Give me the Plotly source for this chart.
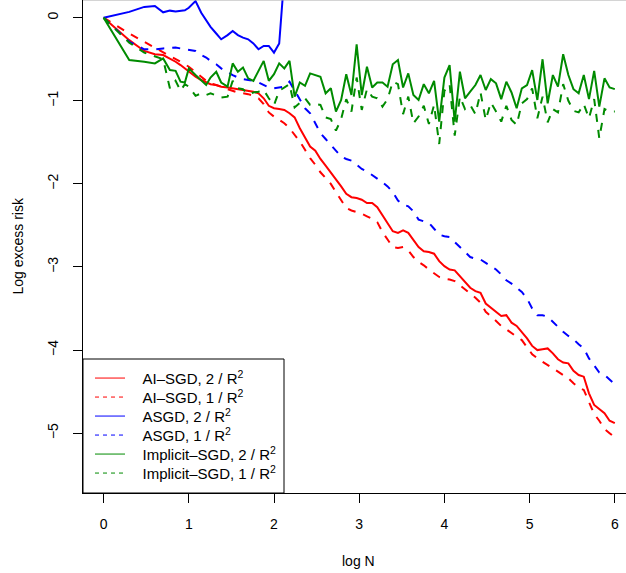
import plotly.graph_objects as go

# log N values (x positions shared by all series)
log_n = [0, 0.301, 0.477, 0.602, 0.699, 0.778, 0.845, 0.903, 0.954, 1.0, 1.079, 1.146, 1.204, 1.255, 1.322, 1.380,
         1.455, 1.515, 1.576, 1.636, 1.697, 1.758, 1.818, 1.879, 1.939, 2.000,
         2.061, 2.121, 2.182, 2.242, 2.303, 2.364, 2.424, 2.485, 2.545, 2.606,
         2.667, 2.727, 2.788, 2.848, 2.909, 2.970, 3.030, 3.091, 3.152, 3.212,
         3.273, 3.333, 3.394, 3.455, 3.515, 3.576, 3.636, 3.697, 3.758, 3.818,
         3.879, 3.939, 4.000, 4.061, 4.121, 4.182, 4.242, 4.303, 4.364, 4.424,
         4.485, 4.545, 4.606, 4.667, 4.727, 4.788, 4.848, 4.909, 4.970, 5.030,
         5.091, 5.152, 5.212, 5.273, 5.333, 5.394, 5.455, 5.515, 5.576, 5.636,
         5.697, 5.758, 5.818, 5.879, 5.939, 6.000]

ai_sgd_2 = [0, -0.27, -0.40, -0.44, -0.45, -0.49, -0.53, -0.57, -0.61, -0.65, -0.71, -0.75, -0.78, -0.80, -0.81, -0.83,
            -0.84, -0.85, -0.86, -0.87, -0.88, -0.89, -0.91, -0.97, -1.06, -1.09,
            -1.10, -1.11, -1.15, -1.20, -1.33, -1.45, -1.55, -1.60, -1.70, -1.78,
            -1.86, -1.94, -2.03, -2.12, -2.16, -2.17, -2.19, -2.23, -2.23, -2.28,
            -2.38, -2.47, -2.57, -2.59, -2.56, -2.59, -2.68, -2.76, -2.81, -2.82,
            -2.84, -2.93, -2.99, -3.03, -3.04, -3.11, -3.18, -3.25, -3.29, -3.31,
            -3.44, -3.49, -3.54, -3.59, -3.58, -3.67, -3.71, -3.78, -3.86, -3.95,
            -4.00, -3.99, -3.98, -4.04, -4.11, -4.15, -4.16, -4.25, -4.30, -4.32,
            -4.52, -4.66, -4.71, -4.76, -4.85, -4.88]

ai_sgd_1 = [0, -0.19, -0.29, -0.36, -0.41, -0.46, -0.50, -0.53, -0.56, -0.59, -0.66, -0.72, -0.76, -0.79, -0.81, -0.83,
            -0.86, -0.88, -0.90, -0.91, -0.92, -0.94, -0.97, -1.04, -1.14, -1.19,
            -1.23, -1.27, -1.33, -1.41, -1.49, -1.59, -1.69, -1.77, -1.86, -1.93,
            -2.00, -2.10, -2.20, -2.29, -2.32, -2.34, -2.36, -2.39, -2.42, -2.46,
            -2.58, -2.67, -2.76, -2.77, -2.76, -2.80, -2.88, -2.94, -2.98, -3.03,
            -3.07, -3.12, -3.14, -3.15, -3.17, -3.22, -3.27, -3.32, -3.37, -3.43,
            -3.54, -3.59, -3.65, -3.71, -3.75, -3.80, -3.84, -3.88, -3.97, -4.05,
            -4.10, -4.14, -4.18, -4.22, -4.26, -4.30, -4.34, -4.40, -4.45, -4.48,
            -4.63, -4.77, -4.85, -4.95, -5.00, -5.05]

asgd_2 = [0, 0.07, 0.13, 0.14, 0.065, 0.085, 0.075, 0.08, 0.09, 0.12, 0.20, 0.06, -0.03, -0.11, -0.19, -0.26,
          -0.21, -0.16, -0.21, -0.24, -0.26, -0.31, -0.38, -0.34, -0.34, -0.42,
          -0.31, 0.5, 3.0, None, None, None, None, None, None, None,
          None, None, None, None, None, None, None, None, None, None,
          None, None, None, None, None, None, None, None, None, None,
          None, None, None, None, None, None, None, None, None, None,
          None, None, None, None, None, None, None, None, None, None,
          None, None, None, None, None, None, None, None, None, None,
          None, None, None, None, None, None]

asgd_1 = [0, -0.29, -0.38, -0.38, -0.37, -0.36, -0.36, -0.37, -0.38, -0.38, -0.40, -0.45, -0.48, -0.52, -0.56, -0.61,
          -0.66, -0.69, -0.72, -0.74, -0.75, -0.76, -0.78, -0.81, -0.84, -0.85,
          -0.84, -0.83, -0.77, -0.87, -0.98, -1.09, -1.15, -1.27, -1.39, -1.46,
          -1.53, -1.59, -1.67, -1.70, -1.72, -1.77, -1.82, -1.85, -1.89, -1.93,
          -1.98, -2.03, -2.10, -2.20, -2.25, -2.27, -2.33, -2.43, -2.45, -2.47,
          -2.54, -2.61, -2.63, -2.64, -2.70, -2.76, -2.82, -2.88, -2.90, -2.91,
          -2.95, -2.99, -3.03, -3.09, -3.16, -3.20, -3.25, -3.30, -3.38, -3.50,
          -3.58, -3.58, -3.60, -3.66, -3.73, -3.78, -3.83, -3.87, -3.93, -3.98,
          -4.10, -4.19, -4.27, -4.30, -4.36, -4.41]

implicit_2 = [0, -0.51, -0.53, -0.55, -0.49, -0.63, -0.64, -0.77, -0.78, -0.61, -0.69, -0.75, -0.81, -0.72, -0.65, -0.78,
              -0.83, -0.55, -0.65, -0.60, -0.73, -0.76, -0.64, -0.52, -0.76, -0.68,
              -0.55, -0.61, -0.52, -0.95, -0.78, -0.82, -0.67, -0.69, -0.71, -0.91,
              -0.85, -1.13, -0.99, -0.68, -0.93, -0.32, -0.93, -0.59, -0.84, -0.78,
              -0.78, -0.83, -0.56, -0.51, -0.84, -0.67, -0.93, -0.99, -0.80, -0.91,
              -0.76, -1.25, -0.72, -0.57, -1.25, -0.65, -0.97, -0.89, -0.81, -0.69,
              -0.87, -0.74, -0.79, -0.98, -0.77, -0.90, -1.09, -0.85, -0.81, -0.63,
              -0.99, -0.50, -1.03, -0.69, -0.83, -0.44, -0.69, -0.86, -0.91, -0.69,
              -0.98, -0.64, -1.07, -0.73, -0.84, -0.86]

implicit_1 = [0, -0.30, -0.42, -0.46, -0.50, -0.85, -0.76, -0.88, -0.80, -0.83, -0.94, -0.91, -0.93, -0.91, -0.94, -0.96,
              -0.95, -0.76, -0.85, -0.86, -0.92, -0.90, -0.89, -0.87, -0.97, -1.05,
              -0.88, -0.84, -0.80, -1.08, -1.02, -0.97, -1.05, -1.04, -1.05, -1.20,
              -1.22, -1.36, -1.22, -0.98, -1.13, -0.72, -1.11, -0.86, -0.95, -0.97,
              -1.07, -0.98, -0.77, -0.80, -1.16, -0.95, -1.27, -1.19, -1.06, -1.28,
              -1.05, -1.52, -0.88, -0.80, -1.42, -0.95, -1.10, -1.05, -1.16, -0.90,
              -1.23, -1.02, -1.13, -1.25, -1.06, -1.23, -1.29, -1.03, -0.98, -0.85,
              -1.21, -0.95, -1.26, -1.10, -1.14, -0.80, -1.00, -1.12, -1.14, -1.04,
              -1.21, -0.98, -1.45, -1.10, -1.13, -1.13]

series_names = ["AI\u2013SGD, 2 / R<sup>2</sup>", "AI\u2013SGD, 1 / R<sup>2</sup>",
                "ASGD, 2 / R<sup>2</sup>", "ASGD, 1 / R<sup>2</sup>",
                "Implicit\u2013SGD, 2 / R<sup>2</sup>", "Implicit\u2013SGD, 1 / R<sup>2</sup>"]
series_values = [ai_sgd_2, ai_sgd_1, asgd_2, asgd_1, implicit_2, implicit_1]
series_colors = ["#FF0000", "#FF0000", "#0000FF", "#0000FF", "#008B00", "#008B00"]
series_solid = [True, False, True, False, True, False]

x_ticks = [0, 1, 2, 3, 4, 5, 6]
y_ticks = [0, -1, -2, -3, -4, -5]

FONT = "Liberation Sans, Arial, Helvetica, sans-serif"
PLOT_H = 493.0
PLOT_W = 543.0

fig = go.Figure()
# data lines
for name, vals, col, solid in zip(series_names, series_values, series_colors, series_solid):
    fig.add_trace(go.Scatter(
        x=log_n, y=vals, mode="lines", name=name, showlegend=False,
        line=dict(color=col, width=2, dash="solid" if solid else "8px,8px"),
        connectgaps=False, hoverinfo="skip"))

# legend entries: one single-item legend per row so rows sit 19 px apart
legend_layouts = {}
for i, (name, col, solid) in enumerate(zip(series_names, series_colors, series_solid)):
    key = "legend" if i == 0 else "legend%d" % (i + 1)
    fig.add_trace(go.Scatter(
        x=[None], y=[None], mode="lines", name="\u00a0\u00a0\u00a0" + name, showlegend=True,
        legend=key,
        line=dict(color=col, width=1, dash="solid" if solid else "4px,4px")))
    row_center = 378.3 + 19 * i
    legend_layouts[key] = dict(
        x=(90 - 83) / PLOT_W, y=(PLOT_H - row_center) / PLOT_H,
        xanchor="left", yanchor="middle",
        bgcolor="rgba(0,0,0,0)", borderwidth=0,
        font=dict(family=FONT, size=15, color="black"),
        itemwidth=30, tracegroupgap=0)

fig.update_layout(
    width=626, height=573,
    margin=dict(l=83, r=0, t=0, b=80, autoexpand=False),
    plot_bgcolor="white", paper_bgcolor="white",
    font=dict(family=FONT, size=14, color="black"),
    xaxis=dict(range=[-0.2418, 6.1315], tickvals=x_ticks, ticktext=[str(v) for v in x_ticks],
               showgrid=False, zeroline=False, showline=True, linecolor="black", linewidth=1,
               ticks="outside", ticklen=9, tickcolor="black", tickwidth=1, automargin=False,
               ticklabelstandoff=9, tickfont=dict(family=FONT, size=14)),
    yaxis=dict(range=[-5.72, 0.213], tickvals=y_ticks,
               ticktext=[("\u2212" + str(-v)) if v < 0 else str(v) for v in y_ticks],
               showgrid=False, zeroline=False, showline=True, linecolor="black", linewidth=1,
               ticks="outside", ticklen=9, tickcolor="black", tickwidth=1, tickangle=-90,
               automargin=False, ticklabelstandoff=9, tickfont=dict(family=FONT, size=14)),
    shapes=[
        dict(type="line", xref="paper", yref="paper", x0=0, x1=1, y0=1, y1=1,
             line=dict(color="rgb(170,170,170)", width=1)),
        dict(type="rect", xref="paper", yref="paper", x0=0, x1=(284 - 83) / PLOT_W,
             y0=0, y1=(PLOT_H - 359) / PLOT_H,
             line=dict(color="black", width=1), fillcolor="white", layer="above"),
    ],
    annotations=[
        dict(text="Log excess risk", xref="paper", yref="paper", x=(17 - 83) / PLOT_W, y=0.5,
             textangle=-90, showarrow=False, xanchor="center", yanchor="middle",
             font=dict(family=FONT, size=14)),
        dict(text="log N", xref="paper", yref="paper", x=(358.6 - 83) / PLOT_W,
             y=(PLOT_H - 561) / PLOT_H,
             showarrow=False, xanchor="center", yanchor="middle",
             font=dict(family=FONT, size=14)),
    ],
)
fig.update_layout(**legend_layouts)

fig.write_html("out.html",
               config={"displayModeBar": False},
               post_script="document.body.style.margin='0px';document.body.style.padding='0px';"
                           "document.body.style.overflow='hidden';")
